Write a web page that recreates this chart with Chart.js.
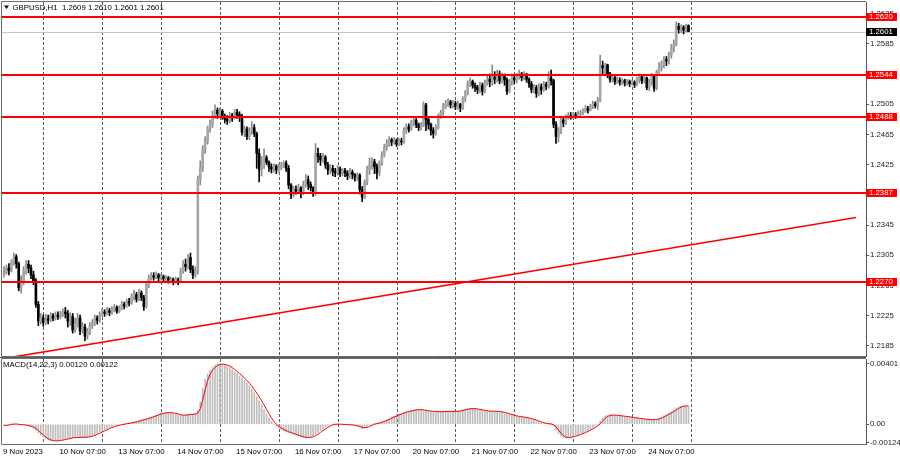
<!DOCTYPE html>
<html lang="en">
<head>
  <meta charset="UTF-8">
  <title>GBPUSD H1</title>
  <script src="https://cdn.jsdelivr.net/npm/chart.js"></script>
  <style>
    body { margin: 0; background: #fff; }
    #wrap { position: relative; width: 900px; height: 460px; }
    canvas { position: absolute; left: 0; }
  </style>
</head>
<body>
<div id="wrap">
  <canvas id="priceChart" width="900" height="357" style="top:0"></canvas>
  <canvas id="macdChart" width="900" height="103" style="top:357px"></canvas>
</div>
<script>
  // hourly bars, GBPUSD H1, 9 Nov 2023 08:00 .. 24 Nov 2023 07:00
  const opens = [
    1.2279, 1.2282, 1.2288, 1.2285, 1.2296, 1.2303, 1.2294, 1.2262, 1.2270, 1.2284,
    1.2293, 1.2288, 1.2279, 1.2271, 1.2240, 1.2218, 1.2222, 1.2216, 1.2221, 1.2219,
    1.2225, 1.2222, 1.2226, 1.2224, 1.2227, 1.2230, 1.2228, 1.2218, 1.2224, 1.2206,
    1.2214, 1.2222, 1.2205, 1.2210, 1.2198, 1.2204, 1.2212, 1.2216, 1.2222, 1.2219,
    1.2226, 1.2230, 1.2228, 1.2232, 1.2229, 1.2233, 1.2236, 1.2231, 1.2235, 1.2240,
    1.2238, 1.2244, 1.2242, 1.2250, 1.2253, 1.2247, 1.2255, 1.2249, 1.2237, 1.2266,
    1.2274, 1.2278, 1.2276, 1.2279, 1.2275, 1.2277, 1.2274, 1.2275, 1.2272, 1.2273,
    1.2271, 1.2273, 1.2270, 1.2284, 1.2293, 1.2290, 1.2302, 1.2286, 1.2279, 1.2285,
    1.2406, 1.2421, 1.2446, 1.2456, 1.2472, 1.2478, 1.2490, 1.2497, 1.2492, 1.2496,
    1.2489, 1.2485, 1.2483, 1.2490, 1.2487, 1.2494, 1.2491, 1.2489, 1.2468, 1.2472,
    1.2462, 1.2470, 1.2474, 1.2466, 1.2440, 1.2418, 1.2424, 1.2434, 1.2428, 1.2422,
    1.2419, 1.2423, 1.2418, 1.2421, 1.2424, 1.2427, 1.2420, 1.2398, 1.2385, 1.2392,
    1.2390, 1.2394, 1.2388, 1.2398, 1.2405, 1.2399, 1.2394, 1.2388, 1.2440, 1.2436,
    1.2431, 1.2435, 1.2425, 1.2418, 1.2420, 1.2416, 1.2414, 1.2419, 1.2413, 1.2417,
    1.2414, 1.2410, 1.2415, 1.2412, 1.2408, 1.2411, 1.2392, 1.2382, 1.2402, 1.2418,
    1.2425, 1.2429, 1.2422, 1.2414, 1.2426, 1.2438, 1.2448, 1.2452, 1.2458, 1.2455,
    1.2457, 1.2452, 1.2456, 1.2455, 1.2470, 1.2475, 1.2472, 1.2480, 1.2484, 1.2478,
    1.2474, 1.2477, 1.2504, 1.2485, 1.2478, 1.2470, 1.2466, 1.2474, 1.2488, 1.2494,
    1.2502, 1.2505, 1.2508, 1.2504, 1.2506, 1.2502, 1.2505, 1.2500, 1.2512, 1.2520,
    1.2532, 1.2535, 1.2530, 1.2527, 1.2524, 1.2530, 1.2522, 1.2532, 1.2538, 1.2535,
    1.2541, 1.2538, 1.2545, 1.2536, 1.2542, 1.2537, 1.2522, 1.2535, 1.2540, 1.2537,
    1.2542, 1.2545, 1.2540, 1.2544, 1.2538, 1.2532, 1.2524, 1.2527, 1.2519, 1.2528,
    1.2524, 1.2531, 1.2528, 1.2540, 1.2536, 1.2478, 1.2462, 1.2470, 1.2484, 1.2480,
    1.2488, 1.2490, 1.2488, 1.2491, 1.2489, 1.2492, 1.2494, 1.2496, 1.2499, 1.2497,
    1.2502, 1.2505, 1.2503, 1.2510, 1.2556, 1.2553, 1.2557, 1.2545, 1.2538, 1.2540,
    1.2535, 1.2537, 1.2534, 1.2536, 1.2533, 1.2535, 1.2532, 1.2534, 1.2531, 1.2538,
    1.2541, 1.2536, 1.2540, 1.2527, 1.2533, 1.2542, 1.2526, 1.2548, 1.2554, 1.2557,
    1.2564, 1.2562, 1.2570, 1.2580, 1.2584, 1.2608, 1.2604, 1.2607, 1.2603, 1.2609
  ];
  const highs = [
    1.2290, 1.2292, 1.2294, 1.2299, 1.2308, 1.2306, 1.2296, 1.2278, 1.2290, 1.2298,
    1.2298, 1.2292, 1.2284, 1.2274, 1.2244, 1.2228, 1.2226, 1.2227, 1.2226, 1.2229,
    1.2228, 1.2230, 1.2230, 1.2231, 1.2234, 1.2236, 1.2232, 1.2229, 1.2228, 1.2222,
    1.2228, 1.2226, 1.2216, 1.2214, 1.2208, 1.2216, 1.2220, 1.2226, 1.2225, 1.2230,
    1.2234, 1.2233, 1.2236, 1.2235, 1.2237, 1.2240, 1.2238, 1.2238, 1.2244, 1.2243,
    1.2247, 1.2248, 1.2254, 1.2259, 1.2256, 1.2260, 1.2258, 1.2252, 1.2270, 1.2279,
    1.2282, 1.2282, 1.2283, 1.2281, 1.2280, 1.2279, 1.2278, 1.2277, 1.2276, 1.2275,
    1.2276, 1.2275, 1.2288, 1.2298, 1.2300, 1.2306, 1.2308, 1.2291, 1.2290, 1.2410,
    1.2430, 1.2450, 1.2462, 1.2476, 1.2484, 1.2496, 1.2504, 1.2500, 1.2500, 1.2498,
    1.2492, 1.2490, 1.2494, 1.2493, 1.2498, 1.2498, 1.2495, 1.2492, 1.2476, 1.2475,
    1.2474, 1.2482, 1.2478, 1.2468, 1.2446, 1.2436, 1.2446, 1.2437, 1.2430, 1.2426,
    1.2426, 1.2425, 1.2426, 1.2428, 1.2430, 1.2430, 1.2424, 1.2400, 1.2396, 1.2397,
    1.2399, 1.2396, 1.2403, 1.2412, 1.2410, 1.2402, 1.2396, 1.2453, 1.2447, 1.2440,
    1.2440, 1.2437, 1.2428, 1.2425, 1.2424, 1.2420, 1.2424, 1.2422, 1.2420, 1.2420,
    1.2417, 1.2420, 1.2418, 1.2413, 1.2414, 1.2413, 1.2396, 1.2405, 1.2423, 1.2434,
    1.2434, 1.2432, 1.2426, 1.2430, 1.2442, 1.2452, 1.2458, 1.2462, 1.2460, 1.2461,
    1.2459, 1.2460, 1.2460, 1.2474, 1.2479, 1.2479, 1.2484, 1.2488, 1.2486, 1.2480,
    1.2481, 1.2508, 1.2506, 1.2488, 1.2480, 1.2474, 1.2478, 1.2492, 1.2497, 1.2506,
    1.2510, 1.2512, 1.2510, 1.2510, 1.2509, 1.2509, 1.2506, 1.2515, 1.2523, 1.2536,
    1.2540, 1.2537, 1.2533, 1.2530, 1.2534, 1.2533, 1.2537, 1.2544, 1.2545, 1.2557,
    1.2548, 1.2550, 1.2549, 1.2546, 1.2545, 1.2540, 1.2538, 1.2545, 1.2543, 1.2546,
    1.2550, 1.2547, 1.2548, 1.2546, 1.2540, 1.2535, 1.2531, 1.2530, 1.2532, 1.2532,
    1.2535, 1.2534, 1.2548, 1.2550, 1.2538, 1.2482, 1.2474, 1.2488, 1.2488, 1.2491,
    1.2494, 1.2494, 1.2494, 1.2494, 1.2496, 1.2497, 1.2499, 1.2503, 1.2502, 1.2505,
    1.2509, 1.2508, 1.2514, 1.2570, 1.2562, 1.2559, 1.2558, 1.2547, 1.2543, 1.2542,
    1.2541, 1.2540, 1.2539, 1.2538, 1.2538, 1.2537, 1.2537, 1.2536, 1.2541, 1.2545,
    1.2544, 1.2543, 1.2541, 1.2538, 1.2546, 1.2544, 1.2550, 1.2560, 1.2562, 1.2568,
    1.2568, 1.2574, 1.2584, 1.2590, 1.2614, 1.2612, 1.2610, 1.2609, 1.2611, 1.2610
  ];
  const lows = [
    1.2276, 1.2280, 1.2279, 1.2283, 1.2292, 1.2288, 1.2258, 1.2255, 1.2266, 1.2280,
    1.2282, 1.2274, 1.2266, 1.2236, 1.2212, 1.2214, 1.2211, 1.2213, 1.2214, 1.2217,
    1.2218, 1.2219, 1.2220, 1.2221, 1.2224, 1.2222, 1.2210, 1.2212, 1.2202, 1.2203,
    1.2210, 1.2200, 1.2202, 1.2192, 1.2194, 1.2200, 1.2208, 1.2212, 1.2214, 1.2216,
    1.2224, 1.2224, 1.2226, 1.2225, 1.2227, 1.2230, 1.2228, 1.2229, 1.2233, 1.2234,
    1.2236, 1.2238, 1.2240, 1.2246, 1.2243, 1.2245, 1.2245, 1.2232, 1.2235, 1.2262,
    1.2272, 1.2272, 1.2274, 1.2271, 1.2272, 1.2270, 1.2271, 1.2268, 1.2269, 1.2266,
    1.2268, 1.2266, 1.2269, 1.2281, 1.2284, 1.2287, 1.2282, 1.2274, 1.2276, 1.2280,
    1.2398, 1.2416, 1.2440, 1.2452, 1.2468, 1.2474, 1.2486, 1.2486, 1.2488, 1.2485,
    1.2480, 1.2478, 1.2480, 1.2482, 1.2485, 1.2486, 1.2482, 1.2464, 1.2462, 1.2458,
    1.2458, 1.2465, 1.2462, 1.2420, 1.2402, 1.2410, 1.2420, 1.2425, 1.2416, 1.2414,
    1.2415, 1.2413, 1.2415, 1.2418, 1.2421, 1.2416, 1.2393, 1.2380, 1.2382, 1.2386,
    1.2387, 1.2381, 1.2385, 1.2395, 1.2392, 1.2390, 1.2383, 1.2384, 1.2428, 1.2424,
    1.2428, 1.2420, 1.2412, 1.2413, 1.2410, 1.2409, 1.2411, 1.2409, 1.2410, 1.2409,
    1.2405, 1.2407, 1.2406, 1.2403, 1.2404, 1.2386, 1.2376, 1.2380, 1.2398, 1.2412,
    1.2419, 1.2413, 1.2406, 1.2410, 1.2424, 1.2435, 1.2444, 1.2449, 1.2450, 1.2452,
    1.2449, 1.2450, 1.2451, 1.2453, 1.2466, 1.2468, 1.2470, 1.2476, 1.2474, 1.2470,
    1.2471, 1.2475, 1.2470, 1.2472, 1.2464, 1.2460, 1.2464, 1.2472, 1.2486, 1.2490,
    1.2499, 1.2502, 1.2500, 1.2500, 1.2498, 1.2498, 1.2495, 1.2498, 1.2508, 1.2517,
    1.2528, 1.2526, 1.2522, 1.2519, 1.2520, 1.2517, 1.2520, 1.2530, 1.2528, 1.2530,
    1.2532, 1.2534, 1.2532, 1.2533, 1.2530, 1.2518, 1.2520, 1.2530, 1.2532, 1.2533,
    1.2538, 1.2536, 1.2537, 1.2534, 1.2527, 1.2520, 1.2520, 1.2514, 1.2516, 1.2518,
    1.2522, 1.2524, 1.2526, 1.2530, 1.2474, 1.2453, 1.2455, 1.2466, 1.2475, 1.2478,
    1.2485, 1.2485, 1.2486, 1.2486, 1.2487, 1.2490, 1.2491, 1.2494, 1.2493, 1.2496,
    1.2499, 1.2500, 1.2498, 1.2508, 1.2545, 1.2544, 1.2540, 1.2534, 1.2534, 1.2531,
    1.2532, 1.2530, 1.2531, 1.2529, 1.2530, 1.2528, 1.2530, 1.2527, 1.2529, 1.2533,
    1.2532, 1.2533, 1.2524, 1.2523, 1.2530, 1.2522, 1.2524, 1.2544, 1.2549, 1.2553,
    1.2556, 1.2558, 1.2566, 1.2574, 1.2582, 1.2599, 1.2600, 1.2598, 1.2601, 1.2601
  ];
  const closes = [
    1.2282, 1.2288, 1.2285, 1.2296, 1.2303, 1.2294, 1.2262, 1.2270, 1.2284, 1.2293,
    1.2288, 1.2279, 1.2271, 1.2240, 1.2218, 1.2222, 1.2216, 1.2221, 1.2219, 1.2225,
    1.2222, 1.2226, 1.2224, 1.2227, 1.2230, 1.2228, 1.2218, 1.2224, 1.2206, 1.2214,
    1.2222, 1.2205, 1.2210, 1.2198, 1.2204, 1.2212, 1.2216, 1.2222, 1.2219, 1.2226,
    1.2230, 1.2228, 1.2232, 1.2229, 1.2233, 1.2236, 1.2231, 1.2235, 1.2240, 1.2238,
    1.2244, 1.2242, 1.2250, 1.2253, 1.2247, 1.2255, 1.2249, 1.2237, 1.2266, 1.2274,
    1.2278, 1.2276, 1.2279, 1.2275, 1.2277, 1.2274, 1.2275, 1.2272, 1.2273, 1.2271,
    1.2273, 1.2270, 1.2284, 1.2293, 1.2290, 1.2302, 1.2286, 1.2279, 1.2285, 1.2406,
    1.2421, 1.2446, 1.2456, 1.2472, 1.2478, 1.2490, 1.2497, 1.2492, 1.2496, 1.2489,
    1.2485, 1.2483, 1.2490, 1.2487, 1.2494, 1.2491, 1.2489, 1.2468, 1.2472, 1.2462,
    1.2470, 1.2474, 1.2466, 1.2440, 1.2418, 1.2424, 1.2434, 1.2428, 1.2422, 1.2419,
    1.2423, 1.2418, 1.2421, 1.2424, 1.2427, 1.2420, 1.2398, 1.2385, 1.2392, 1.2390,
    1.2394, 1.2388, 1.2398, 1.2405, 1.2399, 1.2394, 1.2388, 1.2440, 1.2436, 1.2431,
    1.2435, 1.2425, 1.2418, 1.2420, 1.2416, 1.2414, 1.2419, 1.2413, 1.2417, 1.2414,
    1.2410, 1.2415, 1.2412, 1.2408, 1.2411, 1.2392, 1.2382, 1.2402, 1.2418, 1.2425,
    1.2429, 1.2422, 1.2414, 1.2426, 1.2438, 1.2448, 1.2452, 1.2458, 1.2455, 1.2457,
    1.2452, 1.2456, 1.2455, 1.2470, 1.2475, 1.2472, 1.2480, 1.2484, 1.2478, 1.2474,
    1.2477, 1.2504, 1.2485, 1.2478, 1.2470, 1.2466, 1.2474, 1.2488, 1.2494, 1.2502,
    1.2505, 1.2508, 1.2504, 1.2506, 1.2502, 1.2505, 1.2500, 1.2512, 1.2520, 1.2532,
    1.2535, 1.2530, 1.2527, 1.2524, 1.2530, 1.2522, 1.2532, 1.2538, 1.2535, 1.2541,
    1.2538, 1.2545, 1.2536, 1.2542, 1.2537, 1.2522, 1.2535, 1.2540, 1.2537, 1.2542,
    1.2545, 1.2540, 1.2544, 1.2538, 1.2532, 1.2524, 1.2527, 1.2519, 1.2528, 1.2524,
    1.2531, 1.2528, 1.2540, 1.2536, 1.2478, 1.2462, 1.2470, 1.2484, 1.2480, 1.2488,
    1.2490, 1.2488, 1.2491, 1.2489, 1.2492, 1.2494, 1.2496, 1.2499, 1.2497, 1.2502,
    1.2505, 1.2503, 1.2510, 1.2556, 1.2553, 1.2557, 1.2545, 1.2538, 1.2540, 1.2535,
    1.2537, 1.2534, 1.2536, 1.2533, 1.2535, 1.2532, 1.2534, 1.2531, 1.2538, 1.2541,
    1.2536, 1.2540, 1.2527, 1.2533, 1.2542, 1.2526, 1.2548, 1.2554, 1.2557, 1.2564,
    1.2562, 1.2570, 1.2580, 1.2584, 1.2608, 1.2604, 1.2607, 1.2603, 1.2609, 1.2601
  ];

  // MACD(14,22,3): main histogram and signal line
  const macdMain = [
    -0.00008, -0.00006, -0.00002, 0.00002, 0.00003, 0, -0.00002, -0.00003, -0.00005, -0.00008,
    -0.00012, -0.00018, -0.00026, -0.0004, -0.00058, -0.00072, -0.00085, -0.00096, -0.00104, -0.00109,
    -0.00111, -0.0011, -0.00108, -0.00105, -0.00102, -0.00098, -0.00094, -0.00091, -0.00089, -0.00088,
    -0.00087, -0.00087, -0.00086, -0.00086, -0.00084, -0.0008, -0.00074, -0.00068, -0.0006, -0.00052,
    -0.00044, -0.00036, -0.00029, -0.00022, -0.00016, -0.00011, -0.00007, -0.00003, 0, 0.00003,
    0.00006, 0.00009, 0.00012, 0.00016, 0.0002, 0.00025, 0.0003, 0.00034, 0.00038, 0.00044,
    0.0005, 0.00056, 0.00062, 0.00068, 0.00073, 0.00076, 0.00078, 0.00078, 0.00076, 0.00073,
    0.00069, 0.00064, 0.0006, 0.0006, 0.00062, 0.00065, 0.00067, 0.00068, 0.00068, 0.0009,
    0.0015, 0.0024, 0.003, 0.00335, 0.00362, 0.0038, 0.00393, 0.004, 0.00401, 0.00399,
    0.00394, 0.00388, 0.00378, 0.00366, 0.00352, 0.00338, 0.00322, 0.00308, 0.00292, 0.00275,
    0.00255, 0.00232, 0.00208, 0.00184, 0.00158, 0.0013, 0.001, 0.0007, 0.00042, 0.00018,
    0, -0.00014, -0.00025, -0.00035, -0.00042, -0.0005, -0.00056, -0.0006, -0.00066, -0.00072,
    -0.00078, -0.00083, -0.00087, -0.00089, -0.00088, -0.00084, -0.00078, -0.00066, -0.00054, -0.00042,
    -0.0003, -0.0002, -0.0001, -0.00003, 0, 0.00001, 0.00001, 0, -0.00001, -0.00002,
    -0.00003, -0.00004, -0.00006, -0.00009, -0.00014, -0.0002, -0.00028, -0.00022, -0.00014, -0.00006,
    0, 0.00005, 0.00008, 0.00012, 0.00018, 0.00024, 0.00032, 0.0004, 0.00048, 0.00055,
    0.00062, 0.00068, 0.00074, 0.0008, 0.00085, 0.00088, 0.00092, 0.00096, 0.00098, 0.00098,
    0.00096, 0.00093, 0.0009, 0.00088, 0.00086, 0.00085, 0.00084, 0.00084, 0.00084, 0.00085,
    0.00087, 0.00086, 0.00085, 0.00085, 0.00086, 0.00088, 0.00092, 0.00096, 0.001, 0.00103,
    0.00105, 0.00104, 0.00102, 0.00099, 0.00096, 0.00093, 0.0009, 0.00088, 0.00087, 0.00087,
    0.00086, 0.00085, 0.00084, 0.0008, 0.00076, 0.0007, 0.00066, 0.0006, 0.00056, 0.00053,
    0.0005, 0.00048, 0.00045, 0.00042, 0.00038, 0.00033, 0.00028, 0.00022, 0.00016, 0.0001,
    0.00006, 0.00003, 0.00002, 0.00001, -0.00012, -0.00038, -0.0006, -0.00078, -0.00088, -0.0009,
    -0.00088, -0.00084, -0.00079, -0.00074, -0.00068, -0.00062, -0.00056, -0.00048, -0.0004, -0.0003,
    -0.0002, -0.0001, -0.00002, 0.00022, 0.00042, 0.00055, 0.0006, 0.00062, 0.00062, 0.0006,
    0.00058, 0.00056, 0.00054, 0.00052, 0.0005, 0.00047, 0.00044, 0.00042, 0.0004, 0.00038,
    0.00036, 0.00034, 0.00032, 0.0003, 0.0003, 0.00031, 0.00034, 0.0004, 0.00048, 0.00058,
    0.00066, 0.00074, 0.00085, 0.00095, 0.00108, 0.00115, 0.0012, 0.00124, 0.00123, 0.0012
  ];
  const macdSignal = [
    -0.00008, -0.00007, -0.00005, -0.00002, 0.00001, 0.00002, 0, -0.00002, -0.00003, -0.00005,
    -0.00008, -0.00013, -0.00019, -0.00028, -0.00041, -0.00057, -0.00072, -0.00084, -0.00095, -0.00103,
    -0.00108, -0.0011, -0.0011, -0.00108, -0.00105, -0.00102, -0.00098, -0.00094, -0.00091, -0.00089,
    -0.00088, -0.00087, -0.00087, -0.00086, -0.00085, -0.00083, -0.00079, -0.00074, -0.00067, -0.0006,
    -0.00052, -0.00044, -0.00036, -0.00029, -0.00022, -0.00016, -0.00011, -0.00007, -0.00003, 0,
    0.00003, 0.00006, 0.00009, 0.00012, 0.00016, 0.0002, 0.00025, 0.0003, 0.00034, 0.00039,
    0.00044, 0.0005, 0.00056, 0.00062, 0.00068, 0.00072, 0.00076, 0.00077, 0.00077, 0.00076,
    0.00073, 0.00069, 0.00064, 0.00061, 0.00061, 0.00062, 0.00065, 0.00067, 0.00068, 0.00075,
    0.00103, 0.0016, 0.0023, 0.00292, 0.00332, 0.00359, 0.00378, 0.00391, 0.00398, 0.004,
    0.00398, 0.00394, 0.00387, 0.00377, 0.00365, 0.00352, 0.00337, 0.00323, 0.00307, 0.00292,
    0.00274, 0.00254, 0.00232, 0.00208, 0.00183, 0.00157, 0.00129, 0.001, 0.00071, 0.00043,
    0.0002, 0.00001, -0.00013, -0.00025, -0.00034, -0.00042, -0.00049, -0.00055, -0.00061, -0.00066,
    -0.00072, -0.00078, -0.00083, -0.00086, -0.00088, -0.00087, -0.00083, -0.00076, -0.00066, -0.00054,
    -0.00042, -0.00031, -0.0002, -0.00011, -0.00004, -0.00001, 0.00001, 0.00001, 0, -0.00001,
    -0.00002, -0.00003, -0.00004, -0.00006, -0.0001, -0.00014, -0.00021, -0.00023, -0.00021, -0.00014,
    -0.00007, 0, 0.00004, 0.00008, 0.00013, 0.00018, 0.00025, 0.00032, 0.0004, 0.00048,
    0.00055, 0.00062, 0.00068, 0.00074, 0.0008, 0.00084, 0.00088, 0.00092, 0.00095, 0.00097,
    0.00097, 0.00096, 0.00093, 0.0009, 0.00088, 0.00086, 0.00085, 0.00084, 0.00084, 0.00084,
    0.00085, 0.00086, 0.00086, 0.00085, 0.00085, 0.00086, 0.00089, 0.00092, 0.00096, 0.001,
    0.00103, 0.00104, 0.00104, 0.00102, 0.00099, 0.00096, 0.00093, 0.0009, 0.00088, 0.00087,
    0.00087, 0.00086, 0.00085, 0.00083, 0.0008, 0.00075, 0.00071, 0.00065, 0.00061, 0.00056,
    0.00053, 0.0005, 0.00048, 0.00045, 0.00042, 0.00038, 0.00033, 0.00028, 0.00022, 0.00016,
    0.00011, 0.00006, 0.00004, 0.00002, -0.00003, -0.00016, -0.00037, -0.00059, -0.00075, -0.00085,
    -0.00089, -0.00087, -0.00084, -0.00079, -0.00074, -0.00068, -0.00062, -0.00055, -0.00048, -0.00039,
    -0.0003, -0.0002, -0.00011, 0.00003, 0.00021, 0.0004, 0.00052, 0.00059, 0.00061, 0.00061,
    0.0006, 0.00058, 0.00056, 0.00054, 0.00052, 0.0005, 0.00047, 0.00044, 0.00042, 0.0004,
    0.00038, 0.00036, 0.00034, 0.00032, 0.00031, 0.0003, 0.00032, 0.00035, 0.00041, 0.00049,
    0.00057, 0.00066, 0.00075, 0.00085, 0.00096, 0.00106, 0.00114, 0.0012, 0.00122, 0.00122
  ];

  // support / resistance levels, bid line and trend line anchors
  const levels = [1.2620, 1.2544, 1.2488, 1.2387, 1.2270];
  const bidPrice = 1.2601;
  const trendBars = [-0.8, 347.3];
  const trendPrices = [1.2168, 1.2355];

  // axis ticks and time labels (bar numbers)
  const priceTicks = [1.2185, 1.2225, 1.2265, 1.2305, 1.2345, 1.2385, 1.2425, 1.2465, 1.2505, 1.2545, 1.2585, 1.2625];
  const macdTicks = [0.00401, 0, -0.00124];
  const separatorBars = [16, 40, 64, 88, 112, 136, 160, 184, 208, 232, 256, 280];
  const timeLabels = ['9 Nov 2023', '10 Nov 07:00', '13 Nov 07:00', '14 Nov 07:00', '15 Nov 07:00', '16 Nov 07:00',
    '17 Nov 07:00', '20 Nov 07:00', '21 Nov 07:00', '22 Nov 07:00', '23 Nov 07:00', '24 Nov 07:00'];
  const labelBars = [0, 23, 47, 71, 95, 119, 143, 167, 191, 215, 239, 263];

  const FONT = '7.8px "Liberation Sans", Arial, sans-serif';
  const X_MIN = -0.815, X_MAX = 351.35;

  const bull = closes.map((c, i) => c >= opens[i]);
  const bodies = closes.map((c, i) => ({ x: i, y: [opens[i], c] }));
  const wicks = highs.map((h, i) => ({ x: i, y: [lows[i], h] }));
  const trendPts = trendBars.map((b, i) => ({ x: b, y: trendPrices[i] }));

  function drawSeparators(chart) {
    const { ctx, chartArea: a, scales: { x } } = chart;
    ctx.save();
    ctx.strokeStyle = '#5a5a5a';
    ctx.lineWidth = 1;
    ctx.setLineDash([3, 2]);
    separatorBars.forEach(b => {
      const px = Math.round(x.getPixelForValue(b)) + 0.5;
      ctx.beginPath();
      ctx.moveTo(px, a.top);
      ctx.lineTo(px, a.bottom);
      ctx.stroke();
    });
    ctx.restore();
  }

  function drawFrame(chart) {
    const { ctx, chartArea: a } = chart;
    ctx.save();
    ctx.strokeStyle = '#6e6e6e';
    ctx.lineWidth = 1;
    ctx.beginPath();
    ctx.moveTo(a.left - 0.5, a.bottom + 0.5);
    ctx.lineTo(a.left - 0.5, a.top - 0.5);
    ctx.lineTo(a.right, a.top - 0.5);
    ctx.moveTo(a.left - 0.5, a.bottom + 0.5);
    ctx.lineTo(a.right, a.bottom + 0.5);
    ctx.stroke();
    ctx.restore();
  }

  function priceTag(ctx, a, yc, text, fill) {
    ctx.fillStyle = fill;
    ctx.fillRect(a.right, Math.round(yc) - 4, 31, 8);
    ctx.fillStyle = '#fff';
    ctx.textBaseline = 'middle';
    ctx.textAlign = 'left';
    ctx.fillText(text, a.right + 3, Math.round(yc));
  }

  const priceDecor = {
    id: 'priceDecor',
    beforeDatasetsDraw(chart) {
      const { ctx, chartArea: a, scales: { y } } = chart;
      drawSeparators(chart);
      const by = Math.round(y.getPixelForValue(bidPrice)) + 0.5;
      ctx.save();
      ctx.strokeStyle = '#c4c4c4';
      ctx.lineWidth = 1;
      ctx.beginPath();
      ctx.moveTo(a.left, by);
      ctx.lineTo(a.right, by);
      ctx.stroke();
      ctx.restore();
    },
    afterDatasetsDraw(chart) {
      const { ctx, chartArea: a, scales: { y } } = chart;
      ctx.save();
      ctx.strokeStyle = '#ff0000';
      ctx.lineWidth = 2;
      levels.forEach(v => {
        const py = Math.round(y.getPixelForValue(v));
        ctx.beginPath();
        ctx.moveTo(a.left, py);
        ctx.lineTo(a.right, py);
        ctx.stroke();
      });
      ctx.restore();
    },
    afterDraw(chart) {
      const { ctx, chartArea: a, scales: { y } } = chart;
      drawFrame(chart);
      ctx.save();
      ctx.font = FONT;
      levels.forEach(v => priceTag(ctx, a, y.getPixelForValue(v), v.toFixed(4), '#ff0000'));
      priceTag(ctx, a, y.getPixelForValue(bidPrice), bidPrice.toFixed(4), '#000');
      // header
      ctx.fillStyle = '#000';
      ctx.beginPath();
      ctx.moveTo(4, 5.5);
      ctx.lineTo(9, 5.5);
      ctx.lineTo(6.5, 9);
      ctx.closePath();
      ctx.fill();
      ctx.textBaseline = 'middle';
      ctx.fillText('GBPUSD,H1  1.2609 1.2610 1.2601 1.2601', 12.5, 7.5);
      ctx.restore();
    }
  };

  const macdDecor = {
    id: 'macdDecor',
    beforeDatasetsDraw(chart) {
      drawSeparators(chart);
    },
    afterDraw(chart) {
      const { ctx, chartArea: a, scales: { x } } = chart;
      drawFrame(chart);
      ctx.save();
      ctx.strokeStyle = '#5a5a5a';
      ctx.beginPath();
      ctx.moveTo(0, 0.5);
      ctx.lineTo(a.right, 0.5);
      ctx.stroke();
      ctx.font = FONT;
      ctx.fillStyle = '#000';
      ctx.textBaseline = 'middle';
      ctx.textAlign = 'left';
      ctx.fillText('MACD(14,22,3) 0.00120 0.00122', 3, a.top + 6);
      timeLabels.forEach((t, k) => {
        ctx.fillText(t, x.getPixelForValue(labelBars[k]) - 1, a.bottom + 8);
      });
      ctx.restore();
    }
  };

  const rightAxis = (min, max, ticks, fmt) => ({
    position: 'right',
    min: min,
    max: max,
    afterFit(scale) {
      scale.width = 34;
      scale.paddingTop = 0;
      scale.paddingBottom = 0;
    },
    afterBuildTicks(scale) { scale.ticks = ticks.map(v => ({ value: v })); },
    ticks: { autoSkip: false, padding: 1, color: '#222', font: { family: '"Liberation Sans", Arial, sans-serif', size: 7.8 }, callback: fmt },
    grid: { drawOnChartArea: false, drawTicks: true, tickLength: 3, color: '#555' },
    border: { display: true, color: '#555', width: 1 }
  });

  new Chart(document.getElementById('priceChart'), {
    type: 'bar',
    data: {
      datasets: [
        { type: 'line', data: trendPts, borderColor: '#ff0000', borderWidth: 1.6, pointRadius: 0, order: 0 },
        { data: bodies, backgroundColor: bull.map(b => b ? '#a6a6a6' : '#000'), barThickness: 2, minBarLength: 1, grouped: false, order: 1 },
        { data: wicks, backgroundColor: bull.map(b => b ? '#8a8a8a' : '#000'), barThickness: 1, grouped: false, order: 2 }
      ]
    },
    options: {
      responsive: false,
      animation: false,
      devicePixelRatio: 1,
      layout: { padding: { left: 2, top: 2, right: 0, bottom: 1 } },
      plugins: { legend: { display: false }, tooltip: { enabled: false } },
      scales: {
        x: { type: 'linear', min: X_MIN, max: X_MAX, offset: false, display: false },
        y: rightAxis(1.21717, 1.26402, priceTicks, v => v.toFixed(4))
      }
    },
    plugins: [priceDecor]
  });

  new Chart(document.getElementById('macdChart'), {
    type: 'bar',
    data: {
      datasets: [
        { type: 'line', data: macdSignal.map((v, i) => ({ x: i, y: v })), borderColor: '#ff0000', borderWidth: 1, pointRadius: 0, order: 0 },
        { data: macdMain.map((v, i) => ({ x: i, y: v })), backgroundColor: '#bdbdbd', barThickness: 1, grouped: false, order: 1 }
      ]
    },
    options: {
      responsive: false,
      animation: false,
      devicePixelRatio: 1,
      layout: { padding: { left: 2, top: 2, right: 0, bottom: 16 } },
      plugins: { legend: { display: false }, tooltip: { enabled: false } },
      scales: {
        x: { type: 'linear', min: X_MIN, max: X_MAX, offset: false, display: false },
        y: rightAxis(-0.00131, 0.00434, macdTicks, v => v === 0 ? '0.00' : v.toFixed(5))
      }
    },
    plugins: [macdDecor]
  });
</script>
</body>
</html>
